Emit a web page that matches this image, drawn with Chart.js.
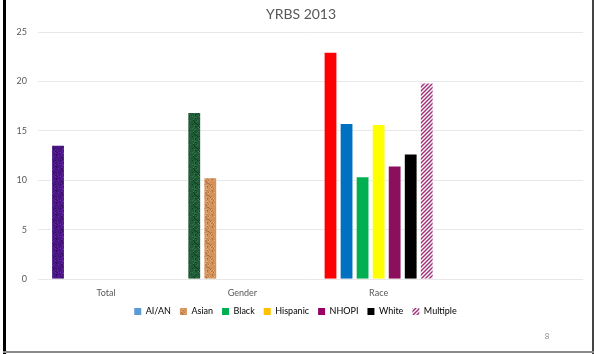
<!DOCTYPE html>
<html>
<head>
<meta charset="utf-8">
<script src="https://cdn.jsdelivr.net/npm/chart.js@4.4.1/dist/chart.umd.min.js"></script>
<style>
  html, body { margin: 0; padding: 0; background: #fff; }
  #wrap { width: 594px; height: 354px; position: relative; }
</style>
</head>
<body>
<div id="wrap"><canvas id="yrbsChart" width="594" height="354"></canvas></div>
<script>
// Categories and series
const categories = ['Total', 'Gender', 'Race', ''];
const seriesNames = ['AI/AN', 'Asian', 'Black', 'Hispanic', 'NHOPI', 'White', 'Multiple'];

// Percent values per series, one slot per category
const aianValues     = [13.6, 16.9, 23.0, null];
const asianValues    = [null, 10.3, 15.8, null];
const blackValues    = [null, null, 10.4, null];
const hispanicValues = [null, null, 15.7, null];
const nhopiValues    = [null, null, 11.5, null];
const whiteValues    = [null, null, 12.7, null];
const multipleValues = [null, null, 19.9, null];

const yTicks = [0, 5, 10, 15, 20, 25];

// speckled fill, fixed seed so it looks the same every time
function texture(base, light, dark) {
    const c = document.createElement('canvas');
    c.width = 12; c.height = 12;
    const g = c.getContext('2d');
    g.fillStyle = base;
    g.fillRect(0, 0, 12, 12);
    let s = 7;
    const next = () => { s = (s * 1103515245 + 12345) % 2147483648; return s / 2147483648; };
    for (let i = 0; i < 40; i++) {
        g.fillStyle = next() < 0.5 ? light : dark;
        g.fillRect(Math.floor(next() * 12), Math.floor(next() * 12), 1, 1);
    }
    return g.createPattern(c, 'repeat');
}

function hatch(color) {
    const c = document.createElement('canvas');
    c.width = 4; c.height = 4;
    const g = c.getContext('2d');
    g.fillStyle = '#ffffff';
    g.fillRect(0, 0, 4, 4);
    g.strokeStyle = color;
    g.lineWidth = 1.5;
    g.beginPath();
    g.moveTo(-1, 5); g.lineTo(5, -1);
    g.moveTo(-1, 1); g.lineTo(1, -1);
    g.moveTo(3, 5); g.lineTo(5, 3);
    g.stroke();
    return g.createPattern(c, 'repeat');
}

const purpleTex = texture('#4a1685', '#6a2aa8', '#2e0c5c');
const greenTex  = texture('#1f5b36', '#3a7a4f', '#0f3d22');
const tanTex    = texture('#d3925b', '#e8b07c', '#b0703d');
const multiHatch = hatch('#a1307e');

// bar fills, per point
const barFills = [
    [purpleTex, greenTex, '#ff0000', null],
    [null, tanTex, '#0070c0', null],
    [null, null, '#00b050', null],
    [null, null, '#ffff00', null],
    [null, null, '#8c0f5e', null],
    [null, null, '#000000', null],
    [null, null, multiHatch, null]
];

// legend swatches
const legendFills = ['#5b9bd5', tanTex, '#00b050', '#ffc000', '#990066', '#000000', multiHatch];

const seriesValues = [aianValues, asianValues, blackValues, hispanicValues, nhopiValues, whiteValues, multipleValues];

// white page, slide frame, title and page number
const framePlugin = {
    id: 'frame',
    beforeDraw(chart) {
        const g = chart.ctx;
        g.save();
        g.fillStyle = '#ffffff';
        g.fillRect(0, 0, chart.width, chart.height);
        g.restore();
    },
    afterDraw(chart) {
        const g = chart.ctx;
        g.save();
        g.fillStyle = '#595959';
        g.font = '14px Lato';
        g.textAlign = 'center';
        g.textBaseline = 'middle';
        g.fillText('YRBS 2013', 301, 14);
        g.fillStyle = '#000000';
        g.fillRect(3, 0, 3, 354);
        g.fillStyle = '#444444';
        g.fillRect(592, 0, 2, 354);
        g.fillStyle = '#8a8a8a';
        g.fillRect(3, 351, 591, 2);
        g.fillStyle = '#8c8c8c';
        g.font = '8px Lato';
        g.fillText('8', 547, 336);
        g.restore();
    }
};

const ctx = document.getElementById('yrbsChart').getContext('2d');

new Chart(ctx, {
    type: 'bar',
    data: {
        labels: categories,
        datasets: seriesNames.map((name, i) => ({
            label: name,
            data: seriesValues[i],
            backgroundColor: barFills[i],
            borderColor: 'rgba(255,255,255,0.7)',
            borderWidth: 1,
            categoryPercentage: 0.824,
            barPercentage: 0.86
        }))
    },
    options: {
        responsive: false,
        animation: false,
        devicePixelRatio: 1,
        layout: { padding: { left: 8, right: 11, top: 32, bottom: 28 } },
        font: { family: 'Lato' },
        plugins: {
            title: { display: false },
            legend: {
                position: 'bottom',
                labels: {
                    boxWidth: 7,
                    boxHeight: 7,
                    padding: 9,
                    color: '#595959',
                    font: { family: 'Lato', size: 9 },
                    generateLabels: () => seriesNames.map((name, i) => ({
                        text: name,
                        fillStyle: legendFills[i],
                        strokeStyle: 'rgba(0,0,0,0)',
                        lineWidth: 0,
                        datasetIndex: i,
                        hidden: false
                    }))
                }
            },
            tooltip: { enabled: false }
        },
        scales: {
            x: {
                grid: { display: false },
                border: { display: false },
                ticks: { color: '#595959', font: { family: 'Lato', size: 9 }, padding: 0 }
            },
            y: {
                min: 0,
                max: 25,
                afterBuildTicks: scale => { scale.ticks = yTicks.map(v => ({ value: v })); },
                afterFit: scale => { scale.width = 30; },
                grid: { color: '#e8e8e8', drawTicks: false },
                border: { display: false },
                ticks: { color: '#595959', font: { family: 'Lato', size: 9 }, padding: 11 }
            }
        }
    },
    plugins: [framePlugin]
});
</script>
</body>
</html>
